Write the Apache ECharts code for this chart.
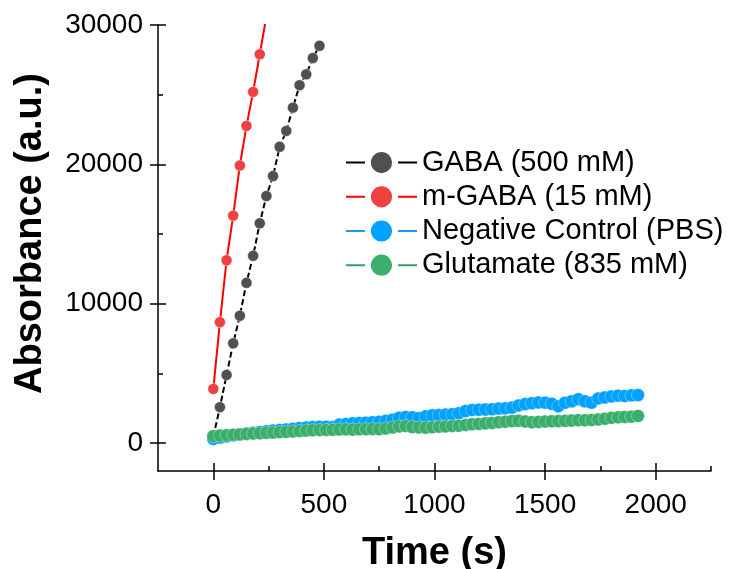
<!DOCTYPE html>
<html>
<head>
<meta charset="utf-8">
<script src="https://cdn.jsdelivr.net/npm/echarts@6/dist/echarts.min.js"></script>
<style>
html,body{margin:0;padding:0;background:#fff;}
#chart{width:729px;height:569px;}
</style>
</head>
<body>
<div id="chart"></div>
<script>
// ---- data ----
const timeGABA = [0,30,60,90,120,150,180,210,240,270,300,330,360,390,420,450,480];
const valGABA = [450,2580,4890,7160,9140,11500,13440,15770,17730,19160,21260,22400,24070,25680,26460,27630,28510];

const timeMGABA = [0,30,60,90,120,150,180,210,240];
const valMGABA = [3890,8680,13120,16320,19920,22760,25200,27900,30600];

const timeCtrl = [0,30,60,90,120,150,180,210,240,270,300,330,360,390,420,450,480,510,540,570,600,630,660,690,720,750,780,810,840,870,900,930,960,990,1020,1050,1080,1110,1140,1170,1200,1230,1260,1290,1320,1350,1380,1410,1440,1470,1500,1530,1560,1590,1620,1650,1680,1710,1740,1770,1800,1830,1860,1890,1920];
const valPBS = [300,400,480,560,620,690,750,800,850,900,
  940,980,1030,1080,1120,1150,1170,1180,1150,1330,
  1380,1420,1450,1470,1500,1530,1600,1680,1820,1880,
  1850,1800,1920,2000,2010,2050,2080,2150,2300,2380,
  2400,2410,2430,2480,2500,2550,2700,2800,2860,2920,
  2900,2820,2650,2900,3000,3150,3000,2900,3200,3280,
  3350,3400,3380,3430,3450];
const valGlu = [500,540,570,600,630,660,690,710,740,760,
  790,810,840,870,900,930,940,950,960,980,
  990,970,990,1000,1010,1000,1050,1120,1200,1230,
  1150,1130,1110,1140,1180,1200,1230,1250,1300,1360,
  1380,1420,1450,1500,1540,1580,1600,1560,1500,1520,
  1550,1570,1580,1600,1620,1650,1640,1660,1700,1750,
  1820,1860,1880,1900,1950];

const seriesNames = ['GABA (500 mM)','m-GABA (15 mM)','Negative Control (PBS)','Glutamate (835 mM)'];
const xMajor = [0,500,1000,1500,2000];
const xMinor = [250,750,1250,1750,2250];
const yMajor = [0,10000,20000,30000];
const yMinor = [5000,15000,25000];

const pair = (t, v) => t.map((x, i) => [x, v[i]]);

const FONT = '"Liberation Sans", Arial, sans-serif';
const AX = '#000';
const X_MIN = -250, X_MAX = 2250, Y_MIN = -2000, Y_MAX = 30000;
const plain = v => String(v);

function xAx(extra) {
  return Object.assign({
    type: 'value', min: X_MIN, max: X_MAX, gridIndex: 0, position: 'bottom',
    splitLine: {show: false},
    axisLine: {show: false, lineStyle: {color: AX, width: 1.5}},
    axisLabel: {show: false},
    axisTick: {show: false}
  }, extra);
}
function yAx(extra) {
  return Object.assign({
    type: 'value', min: Y_MIN, max: Y_MAX, gridIndex: 0, position: 'left',
    splitLine: {show: false},
    axisLine: {show: false, lineStyle: {color: AX, width: 1.5}},
    axisLabel: {show: false},
    axisTick: {show: false}
  }, extra);
}

const chart = echarts.init(document.getElementById('chart'), null, {renderer: 'canvas'});
chart.setOption({
  animation: false,
  backgroundColor: '#fff',
  grid: {left: 158, right: 18, top: 25, bottom: 98, containLabel: false, outerBoundsMode: 'none'},
  legend: {
    orient: 'vertical',
    left: 340, top: 141,
    itemWidth: 71, itemHeight: 34, itemGap: 1,
    data: seriesNames,
    textStyle: {fontFamily: FONT, fontSize: 29, color: '#000'},
    itemStyle: {borderColor: '#fff', borderWidth: 6},
    lineStyle: {type: 'solid', width: 2}
  },
  xAxis: [
    xAx({
      axisLine: {show: true, onZero: false, lineStyle: {color: AX, width: 1.5}},
      axisTick: {show: true, inside: true, length: 8, customValues: xMajor, lineStyle: {color: AX, width: 1.5}},
      axisLabel: {show: true, customValues: xMajor, formatter: plain, margin: 20, fontFamily: FONT, fontSize: 28, color: '#000'},
      name: 'Time (s)', nameLocation: 'middle', nameGap: 64,
      nameTextStyle: {fontFamily: FONT, fontSize: 38, fontWeight: 'bold', color: '#000'}
    }),
    xAx({axisLine: {show: false, onZero: false}, axisTick: {show: true, inside: false, length: 9, customValues: xMajor, lineStyle: {color: AX, width: 1.5}}}),
    xAx({axisLine: {show: false, onZero: false}, axisTick: {show: true, inside: true, length: 5, customValues: xMinor, lineStyle: {color: AX, width: 1.5}}})
  ],
  yAxis: [
    yAx({
      axisLine: {show: true, onZero: false, lineStyle: {color: AX, width: 1.5}},
      axisTick: {show: true, inside: true, length: 8, customValues: yMajor, lineStyle: {color: AX, width: 1.5}},
      axisLabel: {show: true, customValues: yMajor, formatter: plain, margin: 15, fontFamily: FONT, fontSize: 28, color: '#000'},
      name: 'Absorbance (a.u.)', nameLocation: 'middle', nameGap: 108,
      nameTextStyle: {fontFamily: FONT, fontSize: 38, fontWeight: 'bold', color: '#000', padding: [0, 0, 0, 29]}
    }),
    yAx({axisLine: {show: false, onZero: false}, axisTick: {show: true, inside: false, length: 8, customValues: yMajor, lineStyle: {color: AX, width: 1.5}}}),
    yAx({axisLine: {show: false, onZero: false}, axisTick: {show: true, inside: true, length: 5, customValues: yMinor, lineStyle: {color: AX, width: 1.5}}})
  ],
  series: [
    {
      name: seriesNames[0], type: 'line', xAxisIndex: 0, yAxisIndex: 0,
      data: pair(timeGABA, valGABA), symbol: 'circle', symbolSize: 11, showAllSymbol: true,
      lineStyle: {color: '#000', width: 2, type: [6, 3]},
      itemStyle: {color: '#505050', borderColor: 'rgba(255,255,255,0.5)', borderWidth: 0.8},
      clip: true
    },
    {
      name: seriesNames[1], type: 'line', xAxisIndex: 0, yAxisIndex: 0,
      data: pair(timeMGABA, valMGABA), symbol: 'circle', symbolSize: 11, showAllSymbol: true,
      lineStyle: {color: '#ff0000', width: 2},
      itemStyle: {color: '#ee4242', borderColor: 'rgba(255,255,255,0.5)', borderWidth: 0.8},
      clip: true
    },
    {
      name: seriesNames[2], type: 'line', xAxisIndex: 0, yAxisIndex: 0,
      data: pair(timeCtrl, valPBS), symbol: 'circle', symbolSize: 13, showAllSymbol: true,
      lineStyle: {color: '#1e9be8', width: 2},
      itemStyle: {color: '#00a2ff', borderColor: 'rgba(255,255,255,0.4)', borderWidth: 0.8},
      clip: true
    },
    {
      name: seriesNames[3], type: 'line', xAxisIndex: 0, yAxisIndex: 0,
      data: pair(timeCtrl, valGlu), symbol: 'circle', symbolSize: 13, showAllSymbol: true,
      lineStyle: {color: '#3a9e66', width: 2},
      itemStyle: {color: '#3cae6c', borderColor: 'rgba(255,255,255,0.4)', borderWidth: 0.8},
      clip: true
    }
  ]
});
</script>
</body>
</html>
